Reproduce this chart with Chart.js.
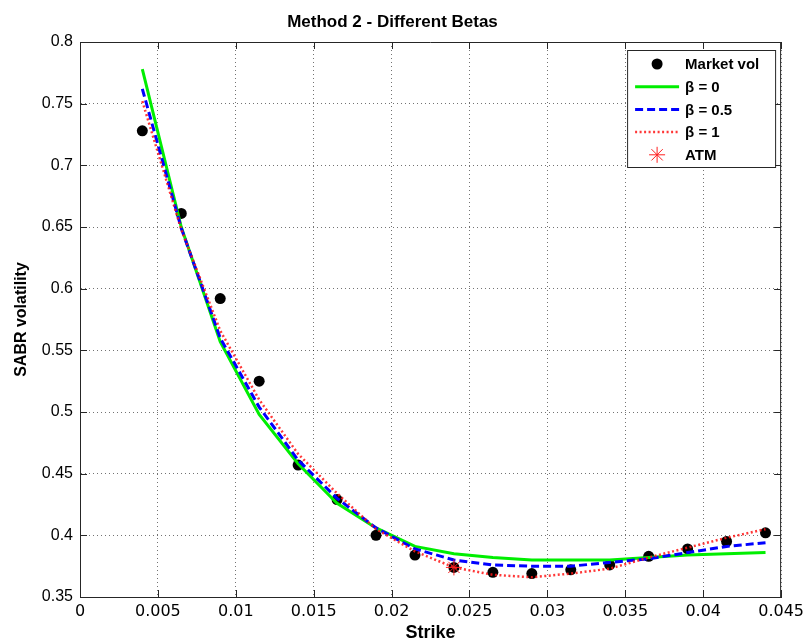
<!DOCTYPE html>
<html>
<head>
<meta charset="utf-8">
<title>Method 2 - Different Betas</title>
<script src="https://cdn.jsdelivr.net/npm/chart.js@4.4.1/dist/chart.umd.min.js"></script>
<style>
  html, body { margin: 0; padding: 0; background: #fff; }
  #wrap { width: 809px; height: 642px; }
</style>
</head>
<body>
<div id="wrap"><canvas id="sabr" width="809" height="642"></canvas></div>
<script>
// strikes of the quoted market vols
const strikes = [0.004, 0.0065, 0.009, 0.0115, 0.014, 0.0165, 0.019, 0.0215, 0.024,
                 0.0265, 0.029, 0.0315, 0.034, 0.0365, 0.039, 0.0415, 0.044];
const marketVol = [0.728, 0.661, 0.592, 0.525, 0.457, 0.429, 0.400, 0.384, 0.374,
                   0.370, 0.369, 0.372, 0.376, 0.383, 0.389, 0.395, 0.402];

// SABR fitted vols for each beta
const volBeta0  = [0.778, 0.650, 0.557, 0.498, 0.458, 0.426, 0.406, 0.391, 0.385,
                   0.382, 0.380, 0.380, 0.380, 0.382, 0.384, 0.385, 0.386];
const volBeta05 = [0.762, 0.649, 0.560, 0.504, 0.461, 0.430, 0.406, 0.389, 0.380,
                   0.376, 0.375, 0.375, 0.378, 0.381, 0.386, 0.391, 0.394];
const volBeta1  = [0.752, 0.648, 0.566, 0.510, 0.466, 0.434, 0.405, 0.387, 0.374,
                   0.368, 0.366, 0.369, 0.373, 0.382, 0.390, 0.398, 0.405];

// at-the-money point
const atmStrike = [0.024];
const atmVol = [0.374];

// axis ticks
const xTickValues = [0, 0.005, 0.01, 0.015, 0.02, 0.025, 0.03, 0.035, 0.04, 0.045];
const xTickLabels = ['0', '0.005', '0.01', '0.015', '0.02', '0.025', '0.03', '0.035', '0.04', '0.045'];
const yTickValues = [0.35, 0.4, 0.45, 0.5, 0.55, 0.6, 0.65, 0.7, 0.75, 0.8];
const yTickLabels = ['0.35', '0.4', '0.45', '0.5', '0.55', '0.6', '0.65', '0.7', '0.75', '0.8'];

const pts = (xs, ys) => xs.map((x, i) => ({ x: x, y: ys[i] }));

Chart.defaults.font.family = "'Liberation Sans', Arial, sans-serif";
Chart.defaults.color = '#000';

// star marker (asterisk), same look as Chart.js 'star'
function drawStar(ctx, x, y, r, color, width) {
    ctx.save();
    ctx.strokeStyle = color;
    ctx.lineWidth = width;
    ctx.beginPath();
    for (let k = 0; k < 4; k++) {
        const a = k * Math.PI / 4;
        ctx.moveTo(x - r * Math.cos(a), y - r * Math.sin(a));
        ctx.lineTo(x + r * Math.cos(a), y + r * Math.sin(a));
    }
    ctx.stroke();
    ctx.restore();
}

/* --- closed axes box with inward ticks --- */
const axesBox = {
    id: 'axesBox',
    afterDraw(chart) {
        const ctx = chart.ctx;
        const { left, right, top, bottom } = chart.chartArea;
        const xs = chart.scales.x, ys = chart.scales.y;
        const len = 7;
        ctx.save();
        ctx.strokeStyle = '#262626';
        ctx.lineWidth = 1;
        ctx.beginPath();
        ctx.moveTo(left, top + 0.5);
        ctx.lineTo(right, top + 0.5);
        ctx.moveTo(right - 0.5, top);
        ctx.lineTo(right - 0.5, bottom);
        xTickValues.forEach(v => {
            const px = Math.round(xs.getPixelForValue(v)) + 0.5;
            ctx.moveTo(px, bottom); ctx.lineTo(px, bottom - len);
            ctx.moveTo(px, top); ctx.lineTo(px, top + len);
        });
        yTickValues.forEach(v => {
            const py = Math.round(ys.getPixelForValue(v)) + 0.5;
            ctx.moveTo(left, py); ctx.lineTo(left + len, py);
            ctx.moveTo(right, py); ctx.lineTo(right - len, py);
        });
        ctx.stroke();
        ctx.restore();
    }
};

/* --- legend inside the upper right corner --- */
const cornerLegend = {
    id: 'cornerLegend',
    afterDraw(chart) {
        const ctx = chart.ctx;
        const { right, top } = chart.chartArea;
        const x0 = right - 154, y0 = top + 8, w = 148, h = 117;
        ctx.save();
        ctx.fillStyle = '#fff';
        ctx.fillRect(x0, y0, w, h);
        ctx.strokeStyle = '#262626';
        ctx.lineWidth = 1;
        ctx.strokeRect(x0 + 0.5, y0 + 0.5, w, h);

        ctx.font = "bold 15px 'Liberation Sans', Arial, sans-serif";
        ctx.textBaseline = 'middle';
        ctx.fillStyle = '#000';
        chart.data.datasets.forEach((ds, i) => {
            const y = y0 + 14 + i * 22.7;
            const sx1 = x0 + 8, sx2 = x0 + 52, cx = (sx1 + sx2) / 2;
            if (ds.showLine) {
                ctx.save();
                ctx.strokeStyle = ds.borderColor;
                ctx.lineWidth = ds.borderWidth;
                ctx.setLineDash(ds.borderDash || []);
                ctx.beginPath();
                ctx.moveTo(sx1, y);
                ctx.lineTo(sx2, y);
                ctx.stroke();
                ctx.restore();
            } else if (ds.pointStyle === 'star') {
                drawStar(ctx, cx, y, ds.pointRadius, ds.borderColor, ds.borderWidth);
            } else {
                ctx.beginPath();
                ctx.arc(cx, y, ds.pointRadius, 0, Math.PI * 2);
                ctx.fillStyle = ds.backgroundColor;
                ctx.fill();
            }
            ctx.fillStyle = '#000';
            ctx.fillText(ds.label, x0 + 58, y + 1);
        });
        ctx.restore();
    }
};

new Chart(document.getElementById('sabr'), {
    type: 'scatter',
    data: {
        datasets: [
            {
                label: 'Market vol', data: pts(strikes, marketVol),
                pointRadius: 5.5, pointStyle: 'circle',
                backgroundColor: '#000', borderColor: '#000', borderWidth: 0, order: 4
            },
            {
                label: 'β = 0', data: pts(strikes, volBeta0), showLine: true,
                borderColor: '#00ee00', borderWidth: 3, pointRadius: 0, order: 3
            },
            {
                label: 'β = 0.5', data: pts(strikes, volBeta05), showLine: true,
                borderColor: '#0000ff', borderWidth: 3, borderDash: [8, 4], pointRadius: 0, order: 2
            },
            {
                label: 'β = 1', data: pts(strikes, volBeta1), showLine: true,
                borderColor: 'rgba(255,20,20,0.85)', borderWidth: 2.5, borderDash: [2, 2.5], pointRadius: 0, order: 1
            },
            {
                label: 'ATM', data: pts(atmStrike, atmVol),
                pointStyle: 'star', pointRadius: 8,
                borderColor: '#ff2020', backgroundColor: '#ff2020', borderWidth: 1, order: 0
            }
        ]
    },
    options: {
        responsive: false,
        animation: false,
        layout: { padding: { left: 0, right: 24, top: 0, bottom: 0 } },
        plugins: {
            legend: { display: false },
            tooltip: { enabled: false },
            title: {
                display: true,
                text: 'Method 2 - Different Betas',
                font: { size: 17, weight: 'bold' },
                color: '#000',
                padding: { top: 12, bottom: 9.6 }
            }
        },
        scales: {
            x: {
                type: 'linear', min: 0, max: 0.045,
                afterBuildTicks: s => { s.ticks = xTickValues.map(v => ({ value: v })); },
                afterFit: s => { s.height = 45; },
                ticks: {
                    callback: (v, i) => xTickLabels[i],
                    font: { size: 16, family: "'DejaVu Sans', sans-serif" },
                    color: '#000', padding: 5, maxRotation: 0, autoSkip: false
                },
                grid: { color: 'rgba(0,0,0,0.55)', lineWidth: 1, drawTicks: false },
                border: { color: '#262626', width: 1, dash: [1, 3] },
                title: {
                    display: true, text: 'Strike',
                    font: { size: 18, weight: 'bold', lineHeight: 1.0 }, color: '#000',
                    padding: { top: 0, bottom: 0 }
                }
            },
            y: {
                type: 'linear', min: 0.35, max: 0.8,
                afterBuildTicks: s => { s.ticks = yTickValues.map(v => ({ value: v })); },
                afterFit: s => { s.width = 80; },
                ticks: {
                    callback: (v, i) => yTickLabels[i],
                    font: { size: 16 }, color: '#000', padding: 7, autoSkip: false
                },
                grid: { color: 'rgba(0,0,0,0.55)', lineWidth: 1, drawTicks: false },
                border: { color: '#262626', width: 1, dash: [1, 3] },
                title: {
                    display: true, text: 'SABR volatility',
                    font: { size: 16, weight: 'bold' }, color: '#000',
                    padding: { top: 12, bottom: 0 }
                }
            }
        }
    },
    plugins: [axesBox, cornerLegend]
});
</script>
</body>
</html>
